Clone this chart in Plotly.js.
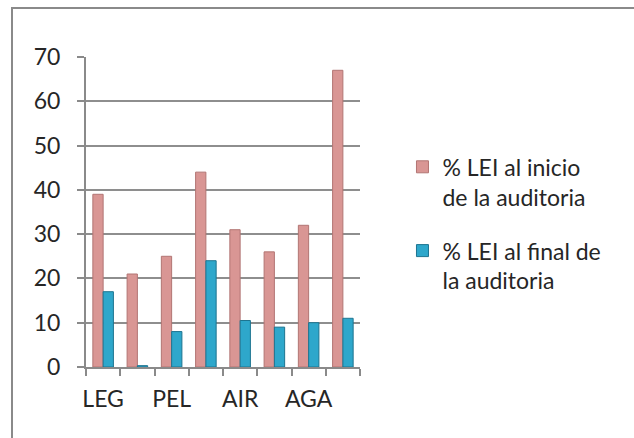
<!DOCTYPE html>
<html>
<head>
<meta charset="utf-8">
<script src="https://cdn.plot.ly/plotly-3.0.1.min.js"></script>
<style>
  html, body { margin: 0; padding: 0; background: #fff; }
  #wrap { position: relative; width: 634px; height: 438px; overflow: hidden; }
  #chart { position: absolute; left: 0; top: 0; width: 634px; height: 438px; }
  #frame { position: absolute; left: 11px; top: 7px; width: 640px; height: 450px;
           border-left: 2px solid #8a8a8a; border-top: 2px solid #8a8a8a; pointer-events: none; }
</style>
</head>
<body>
<div id="wrap">
  <div id="chart"></div>
  <div id="frame"></div>
</div>
<script>
// Category labels (only every other label is shown in the original)
const categories = ['LEG', '', 'PEL', '', 'AIR', '', 'AGA', ''];
const seriesNames = ['% LEI al inicio<br>de la auditoria', '% LEI al final de<br>la auditoria'];
const inicio = [39, 21, 25, 44, 31, 26, 32, 67];
const finalV = [17, 0.3, 8, 24, 10.5, 9, 10, 11];
const yTicks = [0, 10, 20, 30, 40, 50, 60, 70];

const idx = categories.map((_, i) => i);
const font = 'Lato, "Open Sans", sans-serif';
const fs = 23;

const traces = [
  {
    type: 'bar', x: idx, y: inicio, name: seriesNames[0], legendgroup: 'a',
    marker: { color: '#D99694', line: { color: '#B27573', width: 1 } },
    hoverinfo: 'y'
  },
  {
    type: 'bar', x: idx, y: finalV, name: seriesNames[1], legendgroup: 'b',
    marker: { color: '#2EA7CB', line: { color: '#1D7490', width: 1 } },
    hoverinfo: 'y'
  }
];

const layout = {
  width: 634, height: 438,
  margin: { l: 86, r: 274, t: 57, b: 71 },
  paper_bgcolor: '#ffffff', plot_bgcolor: '#ffffff',
  barmode: 'group', bargap: 0.4, bargroupgap: 0,
  showlegend: true,
  font: { family: font, size: fs, color: '#262626' },
  xaxis: {
    range: [-0.5, 7.5],
    tickvals: idx, ticktext: categories,
    ticks: '', showgrid: false, zeroline: false,
    showline: true, linecolor: '#8a8a8a', linewidth: 2,
    tickfont: { family: font, size: fs, color: '#262626' },
    ticklabelstandoff: 10,
    minor: { tick0: -0.5, dtick: 1, ticks: 'outside', ticklen: 7, tickwidth: 2, tickcolor: '#8a8a8a', showgrid: false }
  },
  yaxis: {
    range: [0, 70],
    tickvals: yTicks,
    ticks: 'outside', ticklen: 7, tickwidth: 2, tickcolor: '#8a8a8a',
    showline: true, linecolor: '#8a8a8a', linewidth: 2,
    showgrid: true, gridcolor: '#8e8e8e', gridwidth: 2,
    zeroline: false,
    tickfont: { family: font, size: fs, color: '#262626' },
    ticklabelstandoff: 12
  },
  legend: {
    x: 1.155, xanchor: 'left', y: 0.715, yanchor: 'top',
    valign: 'top', tracegroupgap: 21, itemwidth: 30,
    font: { family: font, size: fs, color: '#262626' },
    bgcolor: 'rgba(0,0,0,0)'
  }
};

Plotly.newPlot('chart', traces, layout, { displayModeBar: false, staticPlot: true });
</script>
</body>
</html>
